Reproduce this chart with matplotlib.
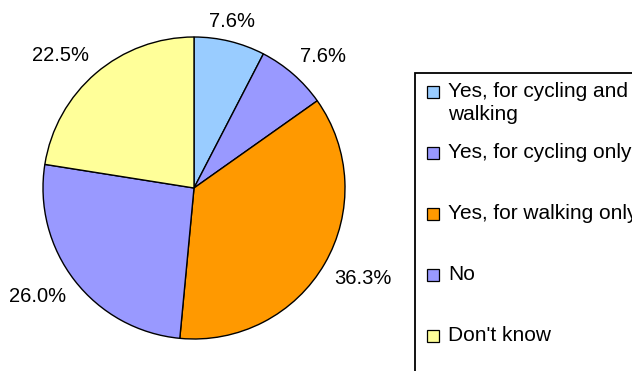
import numpy as np
import matplotlib
matplotlib.use("Agg")
from matplotlib import pyplot as plt
from matplotlib.patches import Rectangle

plt.rcParams['font.family'] = ['Liberation Sans', 'DejaVu Sans']

categories = ["Yes, for cycling and\nwalking", "Yes, for cycling only",
              "Yes, for walking only", "No", "Don't know"]
shares = [7.6, 7.6, 36.3, 26.0, 22.5]
colours = ["#99CCFF", "#9999FF", "#FF9900", "#9999FF", "#FFFF99"]

W, H = 632, 371
fig = plt.figure(figsize=(W / 100, H / 100), dpi=100)

# pie: centre (194, 188) px, radius 151 px
cx, cy, r = 194, 188, 151
ax = fig.add_axes([(cx - r) / W, (H - cy - r) / H, 2 * r / W, 2 * r / H])
wedges, _ = ax.pie(shares, colors=colours, startangle=90, counterclock=False,
                   wedgeprops=dict(edgecolor="black", linewidth=1.0))
ax.set_xlim(-1, 1)
ax.set_ylim(-1, 1)
ax.set_aspect("equal")

# percentage labels just outside each slice
for w, v in zip(wedges, shares):
    mid = np.deg2rad((w.theta1 + w.theta2) / 2)
    c, s = np.cos(mid), np.sin(mid)
    ha = "center" if abs(c) < 0.3 else ("left" if c > 0 else "right")
    va = "bottom" if s > 0 else "top"
    ax.text(1.07 * c, 1.07 * s, f"{v:.1f}%", ha=ha, va=va, fontsize=14.5)

# legend box, drawn in pixel coordinates
def px(x, y):
    return x / W, 1 - y / H

lx, ly = px(415, 73)
fig.patches.append(Rectangle((lx, -0.1), 1.2, ly + 0.1, transform=fig.transFigure,
                             facecolor="white", edgecolor="black", linewidth=1.3))
for i, (lab, col) in enumerate(zip(categories, colours)):
    yc = 92 + i * 61
    fig.patches.append(Rectangle(px(427, yc + 6), 12 / W, 12 / H,
                                 transform=fig.transFigure, facecolor=col,
                                 edgecolor="black", linewidth=0.9))
    fig.text(*px(448, yc - 10), lab, ha="left", va="top", fontsize=15,
             linespacing=1.25)

fig.savefig("out.png", dpi=100)
